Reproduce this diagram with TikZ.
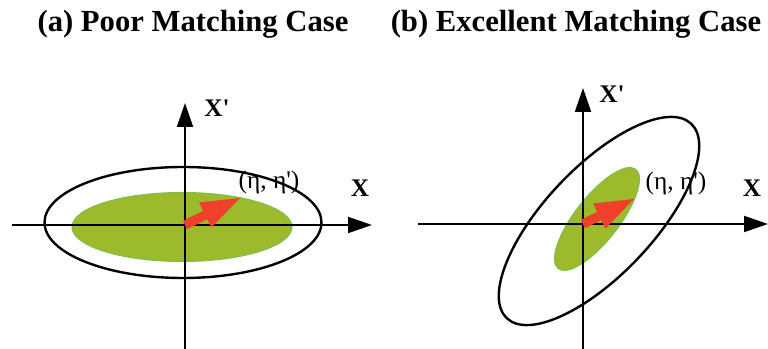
\documentclass[tikz,border=0pt]{standalone}
\usepackage{fontspec}
\setmainfont{Liberation Serif}
\usetikzlibrary{arrows.meta,positioning}
\definecolor{SpotGreen}{HTML}{9CBA2C}
\definecolor{SpotEdge}{HTML}{7CC04A}
\definecolor{ShiftRed}{HTML}{F0402B}
\tikzset{
    % Headings over the two panels
    panel title/.style={
        font=\fontsize{23}{26}\selectfont\bfseries,
        inner sep=0pt,
        anchor=base
    },
    axis/.style={
        -{Triangle[length=18pt,width=12pt]},
        line width=1.4pt,
        color=black
    },
    axis label/.style={
        font=\fontsize{19}{21}\selectfont\bfseries,
        inner sep=0pt
    },
    beam/.style={
        draw=black,
        line width=1.8pt
    },
    spot/.style={
        fill=SpotGreen,
        draw=SpotEdge,
        line width=0.8pt
    },
    shift arrow/.style={
        -{Triangle[length=29pt,width=21pt,line width=0pt]},
        line width=7pt,
        color=ShiftRed
    },
    point label/.style={
        font=\fontsize{19}{21}\selectfont,
        inner sep=0pt
    }
}

\begin{document}
\begin{tikzpicture}[x=0.75pt, y=0.75pt]
    \useasboundingbox (0,0) rectangle (768,349);

    % Titles
    \node[panel title] (ta) at (193,317) {(a) Poor Matching Case};
    \node[panel title] (tb) at (576,317) {(b) Excellent Matching Case};

    % Panel (a)
    \begin{scope}[shift={(185,124)}]
        \coordinate (oa) at (0,0);
        \coordinate (xa0) at (-173,0);
        \coordinate (xa1) at (187,0);
        \coordinate (ya0) at (0,-124);
        \coordinate (ya1) at (0,122);
        \coordinate (pa) at (55,27);

        \fill[spot] (-3,-2) ellipse [x radius=110, y radius=34.5];
        \draw[beam] (-2,2.5) ellipse [x radius=138.5, y radius=55.5];

        \draw[axis] (xa0) -- (xa1);
        \draw[axis] (ya0) -- (ya1);
        \draw[shift arrow] (oa) -- (pa);

        \node[axis label, anchor=base] (lxa) at (175,28) {X};
        \node[axis label, anchor=base west] (lya) at (19,108) {X\textquotesingle};
        \node[point label] (la) at (84,43) {(η, η\textquotesingle)};
    \end{scope}

    % Panel (b)
    \begin{scope}[shift={(583,125)}]
        \coordinate (ob) at (0,0);
        \coordinate (xb0) at (-165,0);
        \coordinate (xb1) at (185,0);
        \coordinate (yb0) at (0,-125);
        \coordinate (yb1) at (0,136);
        \coordinate (pb) at (51,25);

        \fill[spot] (14,5) ellipse [x radius=63, y radius=22, rotate=52];
        \draw[beam] (16,3) ellipse [x radius=134, y radius=54, rotate=46.5];

        \draw[axis] (xb0) -- (xb1);
        \draw[axis] (yb0) -- (yb1);
        \draw[shift arrow] (ob) -- (pb);

        \node[axis label, anchor=base] (lxb) at (169,27) {X};
        \node[axis label, anchor=base west] (lyb) at (16,121) {X\textquotesingle};
        \node[point label] (lb) at (93,41) {(η, η\textquotesingle)};
    \end{scope}
\end{tikzpicture}
\end{document}
